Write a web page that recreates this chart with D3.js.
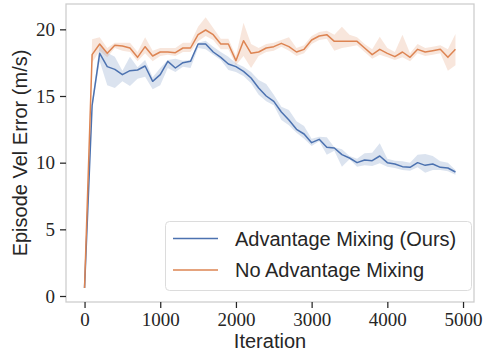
<!DOCTYPE html>
<meta charset="utf-8">
<style>
  body { margin: 0; background: #fff; }
  .tick text { font-family: "Liberation Serif", serif; font-size: 19px; fill: #262626; }
  .lbl { font-family: "Liberation Sans", sans-serif; font-size: 20px; fill: #262626; }
</style>
<svg width="484" height="351"></svg>
<script src="https://d3js.org/d3.v7.min.js"></script>
<script>

var iterations = [0,100,200,300,400,500,600,700,800,900,1000,1100,1200,1300,1400,1500,1600,1700,1800,1900,
    2000,2100,2200,2300,2400,2500,2600,2700,2800,2900,3000,3100,3200,3300,3400,3500,3600,3700,3800,3900,
    4000,4100,4200,4300,4400,4500,4600,4700,4800,4900];

// Advantage Mixing (Ours)
var advMean = [0.6,14.3,18.2,17.2,17.0,16.6,16.9,16.95,17.25,16.1,16.6,17.6,17.1,17.5,17.6,18.9,18.9,18.3,17.9,17.4,
    17.2,16.85,16.35,15.6,15.0,14.6,13.8,13.2,12.5,12.15,11.5,11.75,11.15,11.1,10.6,10.35,10.0,10.2,10.15,10.5,
    10.0,9.9,9.7,9.65,10.0,9.8,9.9,9.65,9.6,9.3];
var advLo = [0.6,14.0,17.6,15.8,15.6,16.1,15.75,16.3,16.45,15.5,15.8,17.1,16.8,17.2,17.1,18.6,18.5,18.1,17.7,16.95,
    16.8,16.5,15.95,15.1,14.6,14.3,13.2,12.8,12.25,11.8,11.25,11.6,10.6,10.9,9.7,10.25,9.7,9.8,9.75,9.95,
    9.7,9.6,9.45,9.4,9.65,9.25,9.45,9.45,9.35,9.1];
var advHi = [0.6,14.6,18.8,18.25,17.95,16.9,17.95,17.15,17.7,16.4,17.1,17.7,17.8,17.65,17.7,19.0,19.15,18.7,18.3,17.95,
    17.45,17.2,16.8,16.2,15.9,15.1,14.2,13.95,13.1,12.75,11.8,11.95,11.9,11.15,11.0,10.5,10.3,10.7,10.75,11.45,
    10.3,10.15,10.1,10.0,10.6,10.65,10.5,10.1,10.0,9.45];

// No Advantage Mixing
var noMean = [0.6,18.1,18.9,18.2,18.8,18.75,18.6,17.9,18.7,18.0,18.3,18.3,18.25,18.6,18.6,19.6,19.95,19.6,18.9,18.9,
    17.65,19.15,18.2,18.3,18.6,18.7,18.95,18.7,18.3,18.5,19.2,19.5,19.6,19.1,19.1,19.1,19.1,18.6,18.1,18.5,
    18.2,17.95,18.3,17.9,18.5,18.3,18.4,18.5,17.9,18.5];
var noLo = [0.6,17.5,18.4,17.9,18.6,18.4,18.3,17.6,18.2,17.6,18.0,18.1,18.0,18.3,18.3,19.1,19.5,19.2,18.5,18.5,
    17.3,18.0,17.1,18.0,18.3,18.4,18.7,18.4,18.0,18.2,18.9,19.2,19.3,18.4,18.6,18.7,18.8,18.3,17.8,18.1,
    17.9,17.7,17.9,17.6,18.2,18.0,18.1,18.2,16.9,17.3];
var noHi = [0.6,19.25,19.4,18.6,19.0,19.0,19.0,18.3,19.4,18.4,18.6,18.6,18.6,19.0,19.0,20.2,20.9,20.1,19.3,19.3,
    18.0,20.5,18.9,18.6,18.9,19.0,19.2,19.4,18.6,18.8,19.5,19.8,19.9,19.6,20.2,19.6,19.4,18.9,18.5,19.45,
    18.6,18.3,19.6,18.2,18.9,18.6,18.7,18.8,18.5,19.65];

var xTicks = [0, 1000, 2000, 3000, 4000, 5000];
var yTicks = [0, 5, 10, 15, 20];
var seriesNames = ["Advantage Mixing (Ours)", "No Advantage Mixing"];
var colors = ["#4c72b0", "#dd8452"];

var svg = d3.select("svg"),
    plot = {left: 66, right: 474, top: 4, bottom: 302};

var x = d3.scaleLinear().domain([-245, 5145]).range([plot.left, plot.right]);
var y = d3.scaleLinear().domain([-0.45, 21.9]).range([plot.bottom, plot.top]);

svg.append("rect").attr("width", 484).attr("height", 351).attr("fill", "#fff");

var series = [
    {mean: advMean, lo: advLo, hi: advHi},
    {mean: noMean, lo: noLo, hi: noHi}
];

var area = d3.area()
    .x(function(d, i) { return x(iterations[i]); })
    .y0(function(d) { return y(d[0]); })
    .y1(function(d) { return y(d[1]); });

var line = d3.line()
    .x(function(d, i) { return x(iterations[i]); })
    .y(function(d) { return y(d); });

series.forEach(function(s, k) {
    svg.append("path")
        .datum(s.lo.map(function(v, i) { return [v, s.hi[i]]; }))
        .attr("d", area)
        .attr("fill", colors[k])
        .attr("fill-opacity", 0.2);
});
series.forEach(function(s, k) {
    svg.append("path")
        .datum(s.mean)
        .attr("d", line)
        .attr("fill", "none")
        .attr("stroke", colors[k])
        .attr("stroke-width", 1.5)
        .attr("stroke-linejoin", "round");
});

// frame
svg.append("rect")
    .attr("x", plot.left).attr("y", plot.top)
    .attr("width", plot.right - plot.left).attr("height", plot.bottom - plot.top)
    .attr("fill", "none").attr("stroke", "#cccccc").attr("stroke-width", 1.25);

var xAxis = svg.append("g")
    .attr("transform", "translate(0," + plot.bottom + ")")
    .call(d3.axisBottom(x).tickValues(xTicks).tickSize(6).tickPadding(5).tickFormat(d3.format("d")));
var yAxis = svg.append("g")
    .attr("transform", "translate(" + plot.left + ",0)")
    .call(d3.axisLeft(y).tickValues(yTicks).tickSize(6).tickPadding(5).tickFormat(d3.format("d")));
[xAxis, yAxis].forEach(function(a) {
    a.select(".domain").remove();
    a.selectAll(".tick line").attr("stroke", "#262626").attr("stroke-width", 1.25);
    a.attr("font-family", null).attr("font-size", null);
});

svg.append("text").attr("class", "lbl")
    .attr("x", (plot.left + plot.right) / 2).attr("y", 348)
    .attr("text-anchor", "middle").text("Iteration");
svg.append("text").attr("class", "lbl")
    .attr("transform", "translate(27," + (plot.top + plot.bottom) / 2 + ") rotate(-90)")
    .attr("text-anchor", "middle").text("Episode Vel Error (m/s)");

// legend
var lg = svg.append("g");
lg.append("rect")
    .attr("x", 165.5).attr("y", 221.5).attr("width", 306).attr("height", 69)
    .attr("rx", 4).attr("fill", "#fff").attr("fill-opacity", 0.8)
    .attr("stroke", "#dcdcdc").attr("stroke-width", 1);
seriesNames.forEach(function(name, k) {
    var ly = 238.5 + k * 31.5;
    lg.append("line").attr("x1", 173).attr("x2", 218).attr("y1", ly).attr("y2", ly)
        .attr("stroke", colors[k]).attr("stroke-width", 1.5);
    lg.append("text").attr("class", "lbl")
        .attr("x", 235).attr("y", ly + 7).text(name);
});
</script>
